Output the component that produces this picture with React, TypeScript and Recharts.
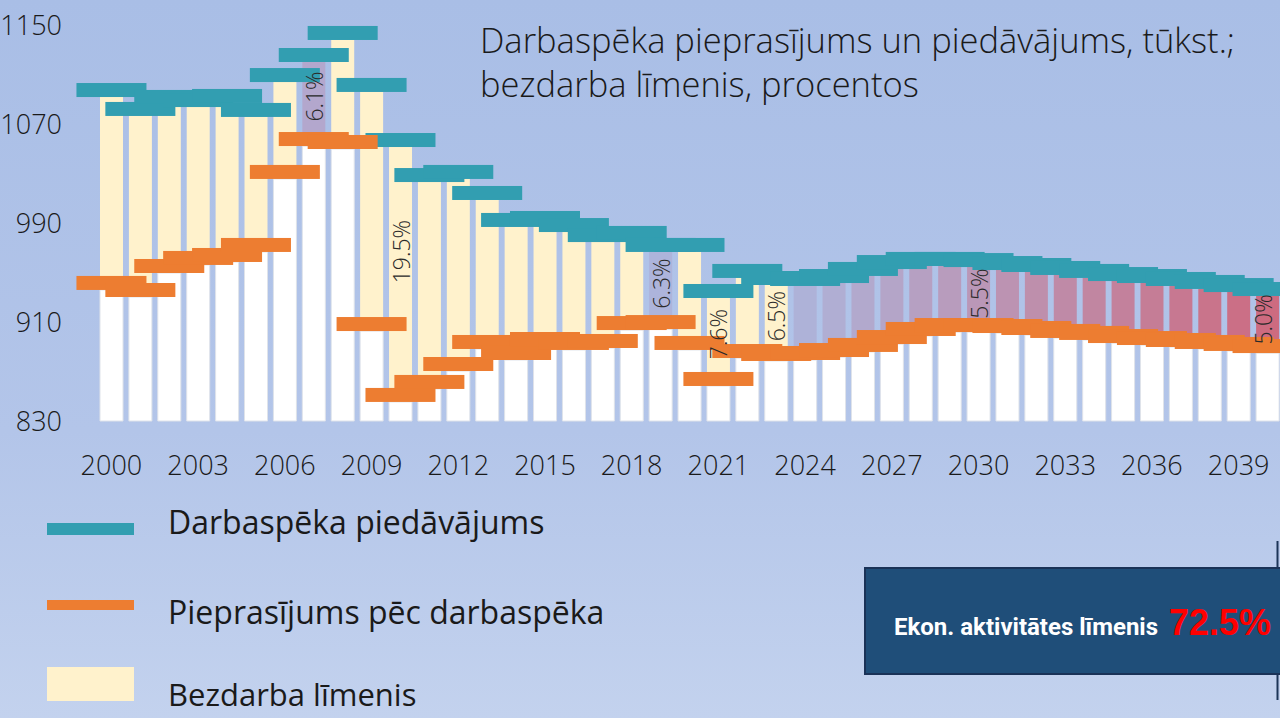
import React from 'react';
import { ComposedChart, Bar, Line, XAxis, YAxis, LabelList, Cell } from 'recharts';

// categories
const years = [
  2000, 2001, 2002, 2003, 2004, 2005, 2006, 2007, 2008, 2009,
  2010, 2011, 2012, 2013, 2014, 2015, 2016, 2017, 2018, 2019,
  2020, 2021, 2022, 2023, 2024, 2025, 2026, 2027, 2028, 2029,
  2030, 2031, 2032, 2033, 2034, 2035, 2036, 2037, 2038, 2039, 2040,
];

// darbaspēka piedāvājums, tūkst.
const supply = [
  1091.8, 1076.5, 1086.2, 1083.7, 1087.0, 1075.7, 1103.9, 1120.1, 1137.9, 1095.9,
  1051.4, 1023.1, 1025.6, 1008.6, 986.8, 988.4, 982.7, 974.6, 976.3, 966.6,
  966.6, 929.4, 945.6, 939.9, 939.1, 941.5, 947.2, 952.8, 955.3, 955.3,
  954.4, 952.0, 950.4, 948.0, 945.6, 943.1, 941.5, 939.1, 936.7, 934.2, 931.0,
];

// pieprasījums pēc darbaspēka, tūkst.
const demand = [
  935.9, 930.2, 949.6, 956.1, 958.5, 966.6, 1025.6, 1052.2, 1049.8, 902.7,
  845.4, 855.9, 870.4, 888.2, 879.3, 890.6, 887.4, 889.0, 903.5, 904.3,
  887.4, 858.3, 880.9, 878.5, 879.3, 881.7, 885.8, 892.2, 898.7, 901.9,
  901.9, 901.1, 899.5, 897.1, 895.5, 893.0, 891.4, 889.8, 888.2, 886.6, 884.9,
];

// bezdarba līmenis (labelled years only)
const rateYears = [2007, 2010, 2019, 2021, 2023, 2030, 2040];
const rateLabels = ['6.1%', '19.5%', '6.3%', '7.6%', '6.5%', '5.5%', '5.0%'];

const yTicks = [830, 910, 990, 1070, 1150];
const forecastFrom = 2024;
const highlightYears = [2007, 2019];

const TEAL = '#329EB1';
const ORANGE = '#ED7D31';
const CREAM = '#FFF2CC';
const FONT = '"Open Sans", "Noto Sans", sans-serif';

const data = years.map((y, i) => {
  const r = rateYears.indexOf(y);
  return {
    year: String(y),
    supply: supply[i],
    demand: demand[i],
    base: [yTicks[0], demand[i]],
    gap: [demand[i], supply[i]],
    rate: r >= 0 ? rateLabels[r] : '',
  };
});

const mix = (a: number[], b: number[], t: number) =>
  `rgb(${a.map((v, k) => Math.round(v + (b[k] - v) * t)).join(',')})`;

const gapFill = (y: number) => {
  if (y === highlightYears[0]) return '#B3A7CD';
  if (y === highlightYears[1]) return '#ADB4DB';
  if (y < forecastFrom) return CREAM;
  const t = (y - forecastFrom) / (years[years.length - 1] - forecastFrom);
  return mix([174, 178, 216], [205, 107, 128], t);
};

const makeDash = (color: string) => (props: any) => {
  const { cx, cy, index } = props;
  if (cx == null || cy == null) return <g key={`d-${color}-${index}`} />;
  return <rect key={`d-${color}-${index}`} x={cx - 35} y={cy - 14} width={70} height={14} fill={color} />;
};

const renderRate = (props: any) => {
  const { x, y, width, height, value, index } = props;
  if (!value) return null;
  // keep the last label inside the visible page
  const cx = Math.min(Number(x) + Number(width) / 2, 1263);
  const top = Math.min(Number(y), Number(y) + Number(height));
  const cy = top + Math.abs(Number(height)) * 0.41;
  return (
    <text
      key={`r-${index}`}
      x={cx}
      y={cy}
      transform={`rotate(-90 ${cx} ${cy})`}
      textAnchor="middle"
      dominantBaseline="central"
      fontSize={23}
      fontWeight={300}
      fontFamily={FONT}
      fill="#2a2a2a"
    >
      {value}
    </text>
  );
};

export default function App() {
  return (
    <div
      style={{
        position: 'fixed',
        left: 0,
        top: 0,
        width: 1280,
        height: 718,
        overflow: 'hidden',
        background: 'linear-gradient(180deg, #a9bee6 0%, #b3c5e9 60%, #c3d2ee 100%)',
      }}
    >
      <div style={{ position: 'absolute', left: 0, top: 0 }}>
        <ComposedChart
          width={1282}
          height={500}
          data={data}
          margin={{ top: 25, right: 0, bottom: 0, left: 0 }}
          barGap={-23}
        >
          <XAxis
            dataKey="year"
            interval={2}
            axisLine={false}
            tickLine={false}
            tickSize={0}
            tickMargin={35}
            height={79}
            tick={{ fontSize: 27, fill: '#1a1a1a', fontFamily: FONT, fontWeight: 300 }}
          />
          <YAxis
            domain={[yTicks[0], yTicks[yTicks.length - 1]]}
            ticks={yTicks}
            width={97}
            axisLine={false}
            tickLine={false}
            tickSize={0}
            tickMargin={35}
            tick={{ fontSize: 27, fill: '#1a1a1a', fontFamily: FONT, fontWeight: 300 }}
          />
          <Bar dataKey="gap" barSize={23} isAnimationActive={false}>
            {data.map((d, i) => (
              <Cell key={`g-${i}`} fill={gapFill(years[i])} />
            ))}
            <LabelList dataKey="rate" content={renderRate} />
          </Bar>
          <Bar dataKey="base" barSize={23} fill="#ffffff" stroke="#dfe3ea" strokeWidth={1} isAnimationActive={false} />
          <Line
            dataKey="supply"
            stroke="none"
            dot={makeDash(TEAL)}
            activeDot={false}
            isAnimationActive={false}
          />
          <Line
            dataKey="demand"
            stroke="none"
            dot={makeDash(ORANGE)}
            activeDot={false}
            isAnimationActive={false}
          />
        </ComposedChart>
      </div>

      <svg
        width={1280}
        height={718}
        style={{ position: 'absolute', left: 0, top: 0, pointerEvents: 'none' }}
        fontFamily={FONT}
      >
        <text x={480} y={53} fontSize={34.5} fontWeight={300} fill="#1a1a1a">
          Darbaspēka pieprasījums un piedāvājums, tūkst.;
        </text>
        <text x={480} y={97} fontSize={34.5} fontWeight={300} fill="#1a1a1a">
          bezdarba līmenis, procentos
        </text>

        <rect x={47} y={523} width={87} height={12} fill={TEAL} />
        <text x={168} y={534} fontSize={32} fill="#1a1a1a">Darbaspēka piedāvājums</text>
        <rect x={47} y={600} width={87} height={10} fill={ORANGE} />
        <text x={168} y={624} fontSize={32} fill="#1a1a1a">Pieprasījums pēc darbaspēka</text>
        <rect x={47} y={667} width={87} height={34} fill={CREAM} />
        <text x={168} y={706} fontSize={31} fill="#1a1a1a">Bezdarba līmenis</text>

        <line x1={1277.5} y1={541} x2={1277.5} y2={700} stroke="#1c3558" strokeWidth={2} />
        <rect x={865} y={568} width={420} height={106} fill="#1F4E79" stroke="#1a3257" strokeWidth={2} />
        <text x={894} y={635} fontSize={24} fontWeight={700} fill="#ffffff" fontFamily="Roboto, sans-serif">
          Ekon. aktivitātes līmenis
        </text>
        <text x={1169} y={635} fontSize={36} fontWeight={700} fill="#ff0000" fontFamily='"Liberation Sans", Arial, sans-serif'>
          72.5%
        </text>
      </svg>
    </div>
  );
}
